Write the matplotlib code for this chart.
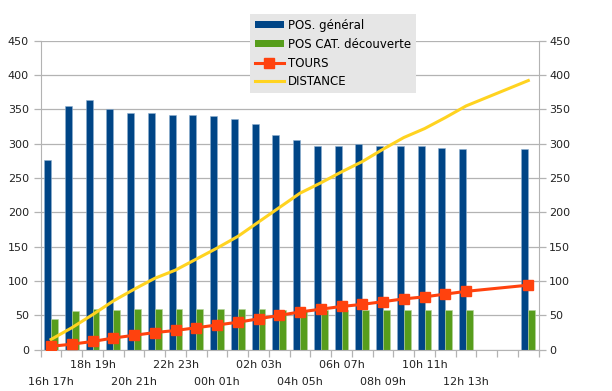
import matplotlib.pyplot as plt
from matplotlib.lines import Line2D
from matplotlib.patches import Patch
import numpy as np

# hourly slots, 16h -> 15h next day
slots = ["16h 17h", "17h 18h", "18h 19h", "19h 20h", "20h 21h", "21h 22h",
         "22h 23h", "23h 00h", "00h 01h", "01h 02h", "02h 03h", "03h 04h",
         "04h 05h", "05h 06h", "06h 07h", "07h 08h", "08h 09h", "09h 10h",
         "10h 11h", "11h 12h", "12h 13h", "13h 14h", "14h 15h", "15h 16h"]
nan = np.nan
pos_general = [276, 355, 364, 351, 344, 344, 342, 342, 341, 336, 328, 313,
               305, 296, 296, 299, 297, 297, 296, 294, 292, nan, nan, 292]
pos_cat = [44, 57, 59, 58, 59, 60, 59, 60, 60, 59, 59, 58,
           58, 58, 58, 58, 58, 58, 58, 58, 58, nan, nan, 58]
tours = [5, 8, 12, 17, 21, 25, 28, 32, 36, 40, 45, 50,
         55, 59, 63, 66, 70, 74, 77, 81, 85, nan, nan, 94]
distance = [15, 32, 51, 71, 88, 104, 116, 132, 148, 165, 186, 207,
            228, 243, 259, 274, 292, 309, 322, 338, 355, nan, nan, 392]

BLUE = "#004586"
GREEN = "#579d1c"
RED = "#ff420e"
YELLOW = "#ffd320"
GRID = "#b3b3b3"

plt.rcParams["font.family"] = "DejaVu Sans"
plt.rcParams["font.size"] = 8

fig = plt.figure(figsize=(6.12, 3.91), dpi=100)
ax = fig.add_axes([0.0665, 0.1056, 0.8137, 0.7903])

x = np.arange(len(slots))
w = 0.33
ax.bar(x - w / 2, pos_general, width=w, color=BLUE, edgecolor="#8fb0cf",
       linewidth=0.4, zorder=2)
ax.bar(x + w / 2, pos_cat, width=w, color=GREEN, edgecolor="#b6d49c",
       linewidth=0.4, zorder=2)

t = np.array(tours, dtype=float)
d = np.array(distance, dtype=float)
ok_d = ~np.isnan(d)
ok_t = ~np.isnan(t)
ax.plot(x[ok_d], d[ok_d], color=YELLOW, lw=2.2, zorder=3)
ax.plot(x[ok_t], t[ok_t], color=RED, lw=2.2, marker="s", ms=7,
        mec=RED, zorder=4)

ax.set_xlim(-0.5, len(slots) - 0.5)
ax.set_ylim(0, 450)
ax.set_yticks(range(0, 451, 50))
ax.grid(axis="y", color=GRID, lw=0.9, zorder=0)
ax.set_axisbelow(True)

for s in ["left", "right", "bottom"]:
    ax.spines[s].set_color(GRID)
ax.spines["top"].set_visible(False)

ax.set_xticks(np.arange(-0.5, len(slots), 1.0))
ax.set_xticklabels([])
ax.tick_params(axis="x", length=5, color=GRID, width=0.9)
ax.tick_params(axis="y", length=5, color=GRID, width=0.9, pad=3.5,
               labelcolor="#222222")

# staggered category labels, every other slot
for i in range(0, 21, 2):
    off = -11 if i % 4 == 2 else -23
    ax.annotate(slots[i], xy=(x[i], 0), xycoords=("data", "axes fraction"),
                xytext=(0, off), textcoords="offset points",
                ha="center", va="center", color="#222222")

ax2 = ax.twinx()
ax2.set_ylim(0, 450)
ax2.set_yticks(range(0, 451, 50))
ax2.tick_params(axis="y", length=5, color=GRID, width=0.9, pad=2.5,
                labelcolor="#222222")
for s in ax2.spines.values():
    s.set_visible(False)

handles = [
    Patch(facecolor=BLUE, edgecolor="none"),
    Patch(facecolor=GREEN, edgecolor="none"),
    Line2D([], [], color=RED, lw=2.2, marker="s", ms=7),
    Line2D([], [], color=YELLOW, lw=2.2),
]
labels = ["POS. général", "POS CAT. découverte", "TOURS", "DISTANCE"]
leg = fig.legend(handles, labels, loc="upper left",
                 bbox_to_anchor=(250 / 612, 1 - 14 / 391),
                 fontsize=8.5, frameon=True, fancybox=False,
                 facecolor="#e6e6e6", edgecolor="none", framealpha=1,
                 handlelength=2.5, handleheight=0.6, handletextpad=0.35,
                 labelspacing=0.5, borderpad=0.4, borderaxespad=0)
leg.set_zorder(10)

fig.savefig("out.png", dpi=100)
plt.close(fig)
